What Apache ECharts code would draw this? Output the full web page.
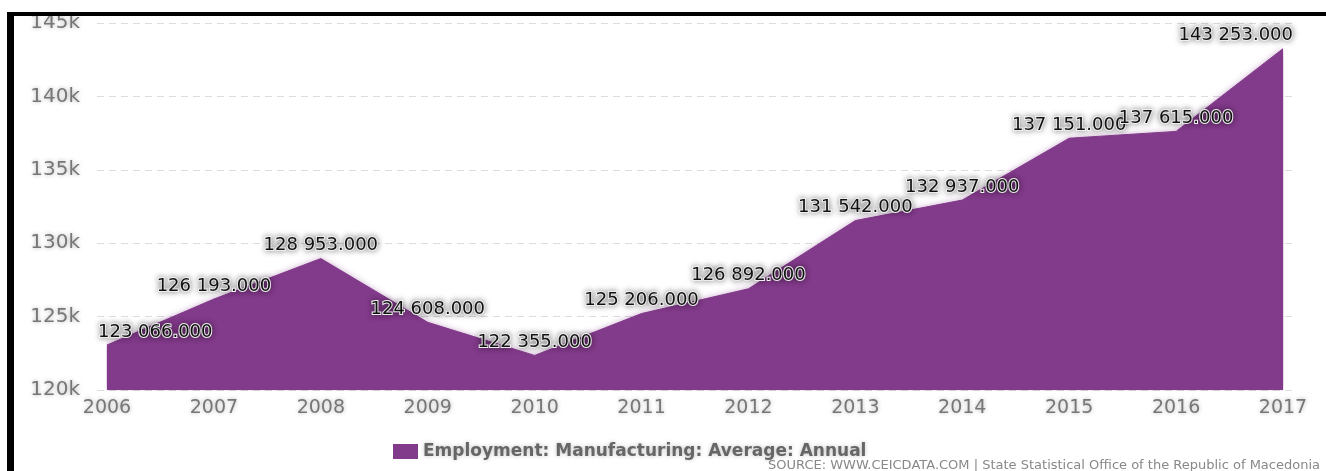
<!DOCTYPE html>
<html>
<head>
<meta charset="utf-8">
<script src="https://cdn.jsdelivr.net/npm/echarts@6/dist/echarts.min.js"></script>
<style>
html,body{margin:0;padding:0;background:#fff;}
#chart{width:1326px;height:471px;}
</style>
</head>
<body>
<div id="chart"></div>
<script>
var years = ['2006','2007','2008','2009','2010','2011','2012','2013','2014','2015','2016','2017'];
var employment = [123066, 126193, 128953, 124608, 122355, 125206, 126892, 131542, 132937, 137151, 137615, 143253];
var seriesName = 'Employment: Manufacturing: Average: Annual';
var sourceText = 'SOURCE: WWW.CEICDATA.COM | State Statistical Office of the Republic of Macedonia';
var yMin = 120000, yMax = 145000, yStep = 5000;

function fmt(v){
  var s = String(Math.round(v));
  return s.replace(/\B(?=(\d{3})+(?!\d))/g, ' ') + '.000';
}

var labelBase = {
  show: true,
  position: 'top',
  distance: 4,
  fontFamily: 'DejaVu Sans',
  fontSize: 18,
  color: '#111',
  textBorderColor: '#ffffff',
  textBorderWidth: 2,
  textShadowColor: 'rgba(0,0,0,0.4)',
  textShadowBlur: 6,
  formatter: function(p){ return fmt(p.value); }
};

var data = employment.map(function(v, i){
  var item = { value: v };
  if (i === 0) item.label = { position: [-9, -4], align: 'left', verticalAlign: 'bottom' };
  if (i === employment.length - 1) item.label = { position: [10, -4], align: 'right', verticalAlign: 'bottom' };
  return item;
});

var axisText = {
  fontFamily: 'DejaVu Sans',
  fontSize: 19,
  color: '#777',
  textShadowColor: 'rgba(0,0,0,0.3)',
  textShadowBlur: 4
};

var chart = echarts.init(document.getElementById('chart'));
chart.setOption({
  animation: false,
  backgroundColor: '#fff',
  grid: [
    { left: 107, right: 43, top: 23, bottom: 81 },
    { left: 97, right: 33, top: 23, bottom: 81 }
  ],
  xAxis: [
    {
      type: 'category', gridIndex: 0, data: years, boundaryGap: false,
      axisLine: { show: false }, axisTick: { show: false },
      axisLabel: Object.assign({ margin: 9 }, axisText),
      splitLine: { show: false }
    },
    {
      type: 'category', gridIndex: 1, data: years, show: false
    }
  ],
  yAxis: [
    {
      type: 'value', gridIndex: 0, min: yMin, max: yMax, interval: yStep,
      axisLabel: { show: false }, axisLine: { show: false }, axisTick: { show: false },
      splitLine: { show: false }
    },
    {
      type: 'value', gridIndex: 1, min: yMin, max: yMax, interval: yStep,
      axisLine: { show: false }, axisTick: { show: false },
      axisLabel: Object.assign({ margin: 17, formatter: function(v){ return (v/1000) + 'k'; } }, axisText, { fontSize: 20 }),
      splitLine: { show: true, lineStyle: { color: '#dcdcdc', type: [7, 5], width: 1 } }
    }
  ],
  legend: {
    left: 388, top: 438,
    icon: 'rect', itemWidth: 25, itemHeight: 15, itemGap: 5,
    textStyle: {
      fontFamily: 'DejaVu Sans', fontWeight: 'bold', fontSize: 17, color: '#666',
      textShadowColor: 'rgba(0,0,0,0.25)', textShadowBlur: 4
    },
    data: [seriesName]
  },
  series: [{
    name: seriesName,
    type: 'line',
    xAxisIndex: 0, yAxisIndex: 0,
    data: data,
    symbol: 'circle',
    symbolSize: 0.01,
    showSymbol: true,
    itemStyle: { color: '#823a8a' },
    lineStyle: { color: '#823a8a', width: 1 },
    areaStyle: {
      color: '#823a8a', opacity: 1,
      shadowColor: 'rgba(130,58,138,0.45)', shadowBlur: 6
    },
    label: labelBase,
    labelLayout: { hideOverlap: false },
    z: 3
  }],
  graphic: [
    { type: 'rect', shape: { x: 7, y: 12, width: 1319, height: 4 }, style: { fill: '#000' }, z: 100 },
    { type: 'rect', shape: { x: 7, y: 12, width: 7, height: 459 }, style: { fill: '#000' }, z: 100 },
    {
      type: 'text', right: 6, top: 459,
      style: {
        text: sourceText, fontFamily: 'DejaVu Sans', fontSize: 13, fill: '#888'
      }
    }
  ]
});
</script>
</body>
</html>
